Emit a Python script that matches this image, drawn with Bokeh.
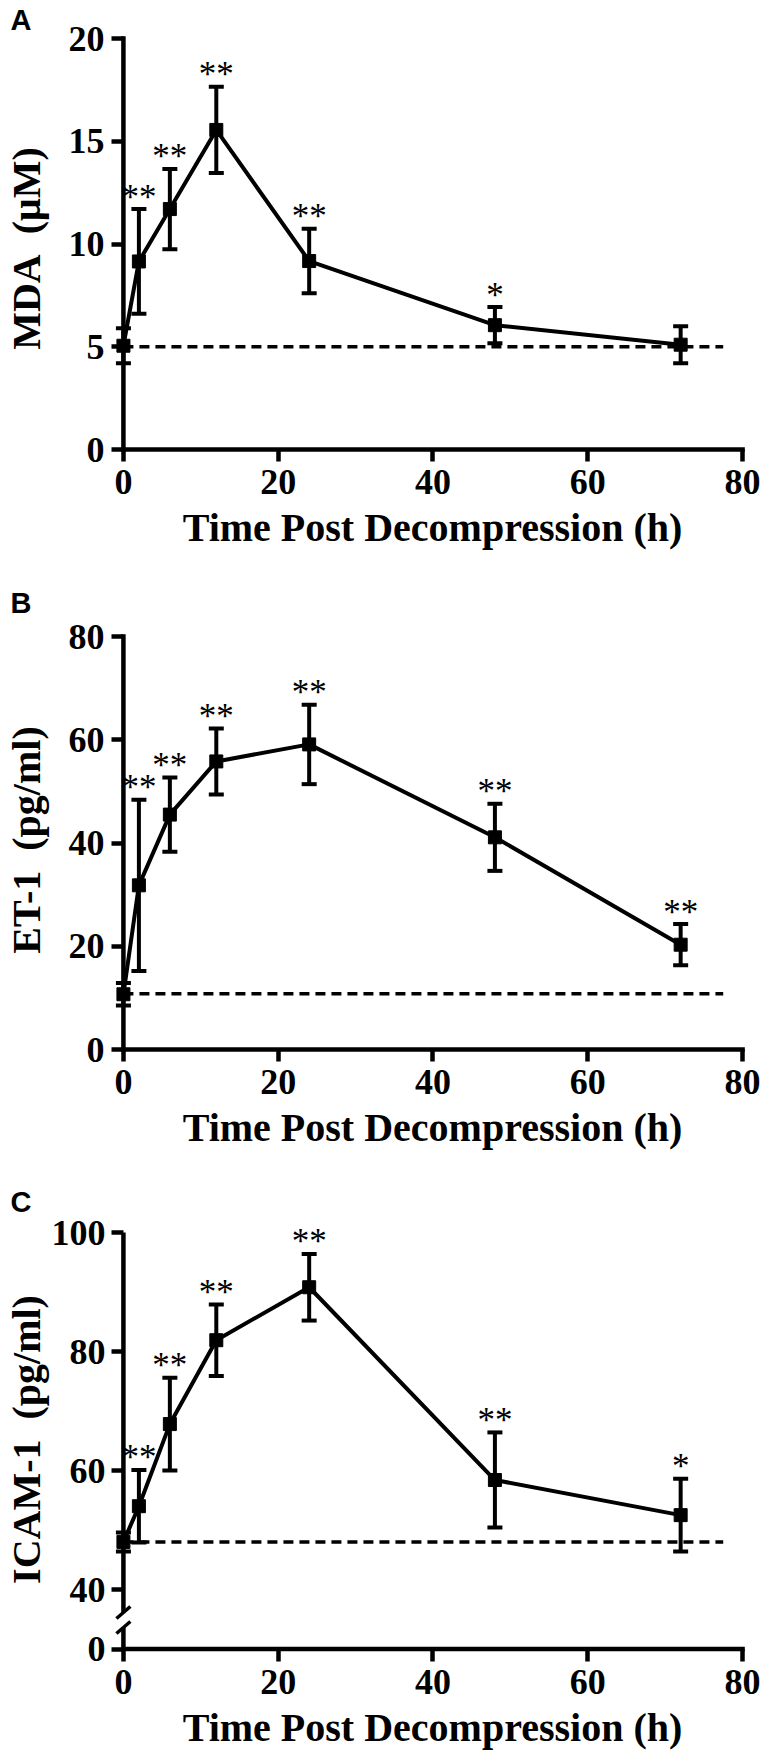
from bokeh.plotting import figure
from bokeh.layouts import column
from bokeh.models import Range1d, FixedTicker, ColumnDataSource
from bokeh.core.properties import value
from bokeh.embed import file_html
from bokeh.resources import INLINE

# ---------------- data ----------------
time_h = [0, 2, 6, 12, 24, 48, 72]
x_ticks = [0, 20, 40, 60, 80]
x_title = "Time Post Decompression (h)"
control_end = 77.5

mda_mean = [5.05, 9.15, 11.7, 15.55, 9.17, 6.05, 5.1]
mda_err = [0.85, 2.55, 1.95, 2.1, 1.57, 0.88, 0.9]
mda_sig = ["", "**", "**", "**", "**", "*", ""]
mda_control = 5.0
mda_ticks = [0, 5, 10, 15, 20]

et1_mean = [10.7, 31.8, 45.5, 55.8, 59.1, 41.1, 20.3]
et1_err = [2.2, 16.6, 7.2, 6.4, 7.7, 6.5, 4.0]
et1_sig = ["", "**", "**", "**", "**", "**", "**"]
et1_control = 10.8
et1_ticks = [0, 20, 40, 60, 80]

icam_mean = [48.0, 54.0, 67.8, 81.9, 90.8, 58.4, 52.5]
icam_err = [1.6, 6.1, 7.8, 6.0, 5.6, 8.0, 6.1]
icam_sig = ["", "**", "**", "**", "**", "**", "*"]
icam_control = 48.0
icam_ticks = [0, 40, 60, 80, 100]
icam_gap = 30  # broken axis: values above the break are shifted down by this

# ---------------- layout constants (page pixels) ----------------
FIG_W = 766
X0_PAGE = 119.0
X80_PAGE = 742.0
FRAME_L = 107
FRAME_R = 753
X_PPU = (X80_PAGE - X0_PAGE) / 80.0
SERIF = "Liberation Serif"
NBSP2 = "\u00a0\u00a0"


def make_panel(letter, mean, err, sig, control, ticks, ylabel, fig_top, fig_h,
               ytop_page, y0_page, frame_top_page, frame_bot_page,
               ylab_standoff, lab_standoff=7, gap=0, break_pages=None):
    dmean = [m - gap for m in mean]
    dticks = [t - gap if t > 0 else 0 for t in ticks]
    dtop = dticks[-1]
    ppu = (y0_page - ytop_page) / dtop

    def ypage(v):
        return (y0_page - v) / ppu

    def xpage(v):
        return (v - X0_PAGE) / X_PPU

    b_top = frame_top_page - fig_top
    b_bot = fig_h - b_top - (frame_bot_page - frame_top_page)

    p = figure(width=FIG_W, height=fig_h, output_backend="svg", toolbar_location=None,
               title=letter,
               x_range=Range1d(xpage(FRAME_L), xpage(FRAME_R)),
               y_range=Range1d(ypage(frame_bot_page), ypage(frame_top_page)),
               min_border_left=FRAME_L, min_border_right=FIG_W - FRAME_R,
               min_border_top=b_top, min_border_bottom=b_bot)
    p.title.text_font = "Liberation Sans"
    p.title.text_font_style = "bold"
    p.title.text_font_size = "29px"
    p.title.text_color = "black"
    p.title.align = "left"
    p.title.offset = 6 - FRAME_L
    p.title.standoff = 0
    p.outline_line_color = None
    p.xgrid.visible = False
    p.ygrid.visible = False
    p.background_fill_color = "white"
    p.border_fill_color = "white"

    for ax in (p.xaxis[0], p.yaxis[0]):
        ax.axis_line_color = None
        ax.major_tick_in = 12
        ax.major_tick_out = 0
        ax.major_tick_line_width = 4.5
        ax.major_tick_line_color = "black"
        ax.minor_tick_line_color = None
        ax.major_label_text_font = SERIF
        ax.major_label_text_font_style = "bold"
        ax.major_label_text_font_size = "36px"
        ax.major_label_text_color = "black"
        ax.axis_label_text_font = SERIF
        ax.axis_label_text_font_style = "bold"
        ax.axis_label_text_color = "black"

    p.xaxis.ticker = FixedTicker(ticks=x_ticks)
    p.xaxis.axis_label = x_title
    p.xaxis.axis_label_text_font_size = "40px"
    p.xaxis.major_label_standoff = 8
    p.xaxis.axis_label_standoff = 8

    p.yaxis.ticker = FixedTicker(ticks=dticks)
    p.yaxis.major_label_overrides = {d: str(t) for d, t in zip(dticks, ticks)}
    p.yaxis.axis_label = ylabel
    p.yaxis.axis_label_text_font_size = "40px"
    p.yaxis.major_label_standoff = lab_standoff
    p.yaxis.axis_label_standoff = ylab_standoff

    # control (baseline) dashed line
    p.line(x=[0, control_end], y=[control - gap, control - gap], line_color="black",
           line_width=3.5, line_dash="10 6")

    # axis lines drawn at data zero
    p.segment(x0=[0], y0=[0], x1=[x_ticks[-1]], y1=[0], line_color="black",
              line_width=4.5, line_cap="square")
    if break_pages is None:
        p.segment(x0=[0], y0=[0], x1=[0], y1=[dtop], line_color="black",
                  line_width=4.5, line_cap="square")
    else:
        hi, lo = ypage(break_pages[0]), ypage(break_pages[1])
        p.segment(x0=[0, 0], y0=[0, hi], x1=[0, 0], y1=[lo, dtop],
                  line_color="black", line_width=4.5, line_cap="butt")
        dx = 7 / X_PPU
        dy = 6 / ppu
        p.segment(x0=[-dx, -dx], y0=[hi - dy, lo - dy], x1=[dx, dx], y1=[hi + dy, lo + dy],
                  line_color="black", line_width=3.5)

    src = ColumnDataSource(dict(
        x=time_h, y=dmean,
        top=[m + e for m, e in zip(dmean, err)],
        bot=[m - e for m, e in zip(dmean, err)],
        sig=sig))
    p.line("x", "y", source=src, line_color="black", line_width=4)
    p.segment(x0="x", y0="bot", x1="x", y1="top", source=src, line_color="black", line_width=4)
    p.scatter("x", "top", source=src, marker="dash", size=15, line_color="black", line_width=4)
    p.scatter("x", "bot", source=src, marker="dash", size=15, line_color="black", line_width=4)
    p.scatter("x", "y", source=src, marker="square", size=13, fill_color="black",
              line_color="black")
    p.text("x", "top", text="sig", source=src, text_font=value(SERIF),
           text_font_size="35px", text_align="center", text_baseline="alphabetic",
           y_offset=-12, text_color="black")
    return p


pa = make_panel("A", mda_mean, mda_err, mda_sig, mda_control, mda_ticks,
                "MDA" + NBSP2 + "(\u03bcM)",
                fig_top=0, fig_h=570, ytop_page=38, y0_page=449,
                frame_top_page=35, frame_bot_page=461, ylab_standoff=17)
pb = make_panel("B", et1_mean, et1_err, et1_sig, et1_control, et1_ticks,
                "ET-1" + NBSP2 + "(pg/ml)",
                fig_top=570, fig_h=598, ytop_page=636, y0_page=1049,
                frame_top_page=618, frame_bot_page=1061, ylab_standoff=17)
pc = make_panel("C", icam_mean, icam_err, icam_sig, icam_control, icam_ticks,
                "ICAM-1" + NBSP2 + "(pg/ml)",
                fig_top=1168, fig_h=596, ytop_page=1232, y0_page=1648.5,
                frame_top_page=1217, frame_bot_page=1661, ylab_standoff=0,
                lab_standoff=6, gap=icam_gap, break_pages=(1612, 1627))

layout = column(pa, pb, pc, spacing=0)
open("out.html", "w").write(file_html(layout, INLINE))
